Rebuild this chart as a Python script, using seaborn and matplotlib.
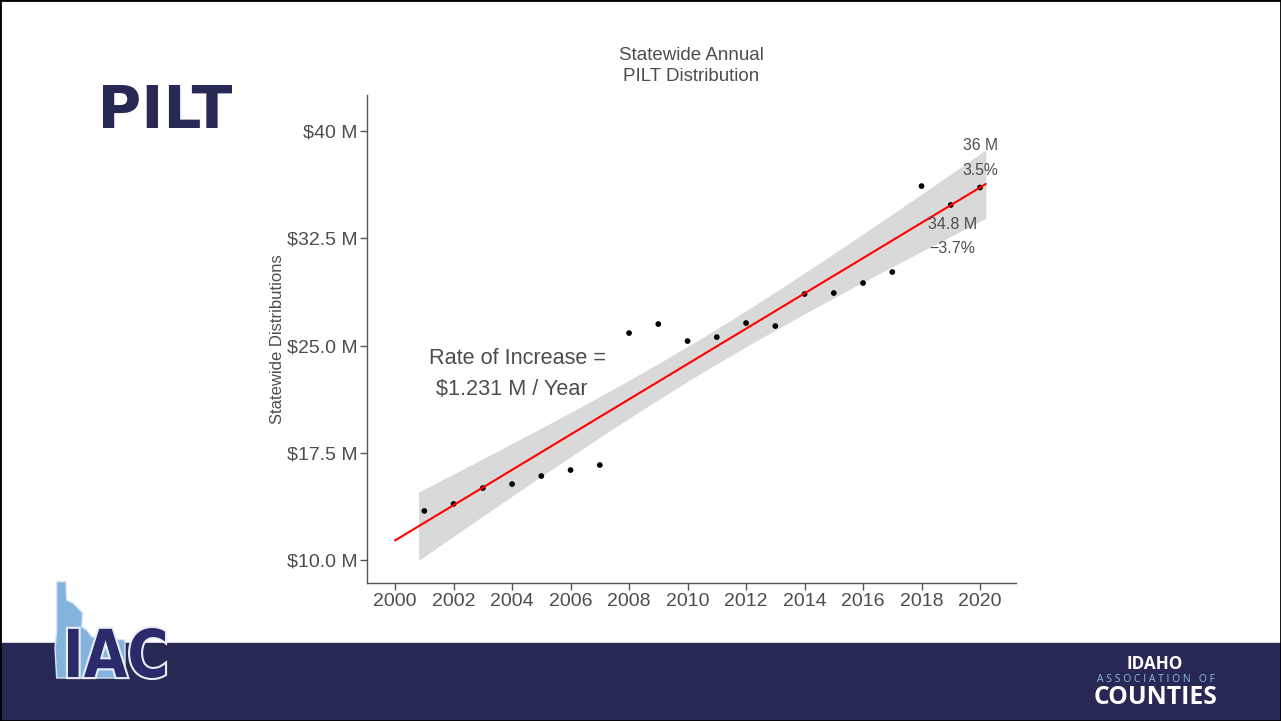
import numpy as np
import pandas as pd
import seaborn as sns
import matplotlib.pyplot as plt
from matplotlib.patches import Rectangle, Polygon, PathPatch
from matplotlib.textpath import TextPath
from matplotlib.font_manager import FontProperties
from matplotlib.transforms import Affine2D

# data (millions of dollars)
years = list(range(2001, 2021))
pilt = [13.43, 13.92, 15.03, 15.31, 15.87, 16.29, 16.64, 25.87, 26.50, 25.31,
        25.59, 26.57, 26.36, 28.60, 28.67, 29.37, 30.14, 36.15, 34.83, 36.05]
y_ticks = [10.0, 17.5, 25.0, 32.5, 40.0]
y_labels = ["$10.0 M", "$17.5 M", "$25.0 M", "$32.5 M", "$40 M"]
x_ticks = list(range(2000, 2021, 2))

df = pd.DataFrame({"year": years, "pilt": pilt})

W, H = 1281, 721
NAVY = "#272853"
GREY_TXT = "#4d4d4d"

sns.set_style("white")
plt.rcParams["font.family"] = ["Liberation Sans", "DejaVu Sans"]

fig = plt.figure(figsize=(W / 100, H / 100), dpi=100)


def fx(px):
    return px / W


def fy(py):
    return 1 - py / H


def stretched_text(s, x0, base, height, width, family, color, stroke=None, z=3):
    # text as a path squeezed into a pixel box (x0 = left, base = baseline from top)
    tp = TextPath((0, 0), s, size=100, prop=FontProperties(family=family, weight="bold"))
    ext = tp.get_extents()
    tr = (Affine2D().translate(-ext.x0, -ext.y0)
          .scale(width / ext.width, height / ext.height)
          .translate(x0, H - base))
    if stroke:
        fig.patches.append(PathPatch(tp, transform=tr, facecolor=stroke,
                                     edgecolor=stroke, lw=3, zorder=z))
    fig.patches.append(PathPatch(tp, transform=tr, facecolor=color, lw=0, zorder=z + 0.1))


ax = fig.add_axes([fx(367), fy(583), fx(1016) - fx(367), fy(95) - fy(583)])

# points first so the band greys the ones inside it (as in the original)
sns.scatterplot(data=df, x="year", y="pilt", color="black", s=17,
                edgecolor="none", ax=ax, zorder=1)

# linear fit + confidence band
b, a = np.polyfit(df.year, df.pilt, 1)
n = len(df)
resid = df.pilt - (a + b * df.year)
s = np.sqrt((resid ** 2).sum() / (n - 2))
xm = df.year.mean()
sxx = ((df.year - xm) ** 2).sum()
xb = np.linspace(df.year.min() - 0.2, df.year.max() + 0.2, 100)
se = s * np.sqrt(1 / n + (xb - xm) ** 2 / sxx)
tcrit = 2.6
ax.fill_between(xb, a + b * xb - tcrit * se, a + b * xb + tcrit * se,
                color="black", alpha=0.15, lw=0, zorder=2)

xl = pd.DataFrame({"year": [2000.0, df.year.max() + 0.2]})
xl["fit"] = a + b * xl.year
sns.lineplot(data=xl, x="year", y="fit", color="red", lw=1.5, ax=ax, zorder=3)

ax.set_xlim(1999.04, 2021.23)
ax.set_ylim(8.39, 42.52)
ax.set_xticks(x_ticks)
ax.set_yticks(y_ticks)
ax.set_yticklabels(y_labels)
ax.tick_params(axis="both", length=5, width=1, color="#555555", bottom=True, left=True,
               labelsize=14, labelcolor=GREY_TXT, pad=2, direction="out")
sns.despine(ax=ax)
for sp in ["left", "bottom"]:
    ax.spines[sp].set_color("#555555")
    ax.spines[sp].set_linewidth(1)
ax.set_xlabel("")
ax.set_ylabel("Statewide Distributions", fontsize=12, color=GREY_TXT, labelpad=1)
ax.set_title("Statewide Annual\nPILT Distribution", fontsize=13.5,
             color=GREY_TXT, pad=10, linespacing=1.3)

ax.text(2004.2, 24.1, "Rate of Increase =", ha="center", va="center",
        fontsize=15.6, color=GREY_TXT)
ax.text(2004.0, 21.9, "$1.231 M / Year", ha="center", va="center",
        fontsize=15.6, color=GREY_TXT)
ax.text(2020, 39.0, "36 M", ha="center", va="center", fontsize=11.3, color=GREY_TXT)
ax.text(2020, 37.25, "3.5%", ha="center", va="center", fontsize=11.3, color=GREY_TXT)
ax.text(2019.05, 33.45, "34.8 M", ha="center", va="center", fontsize=11.5, color=GREY_TXT)
ax.text(2019.05, 31.75, "\u22123.7%", ha="center", va="center", fontsize=11.5, color=GREY_TXT)

# slide decoration
stretched_text("PILT", 103, 128, 43, 129, "DejaVu Sans", NAVY)

fig.patches.append(Rectangle((0, 0), 1, fy(643), transform=fig.transFigure,
                             color=NAVY, zorder=0))

idaho = [(56.7, 581.7), (66, 581.7), (66.7, 600), (73, 603), (82.7, 613),
         (81.7, 626.7), (86.7, 630), (92, 637), (125, 640), (125, 678),
         (56.7, 678), (55, 648), (56.7, 630)]
fig.patches.append(Polygon([(fx(x), fy(y)) for x, y in idaho], closed=True,
                           transform=fig.transFigure, facecolor="#84b4de",
                           edgecolor="#d8e6f2", lw=1, zorder=1))
stretched_text("IAC", 68, 678, 50, 97, "DejaVu Sans", "#2b2a6b", stroke="#e8eef6", z=2)

fig.text(fx(1155), fy(664), "IDAHO", fontsize=12.3, fontweight="bold",
         color="white", ha="center", va="center", family=["Open Sans", "DejaVu Sans"])
fig.text(fx(1156), fy(680), "A S S O C I A T I O N   O F", fontsize=7.5,
         color="#8dbde8", ha="center", va="center", family=["Open Sans", "DejaVu Sans"])
fig.text(fx(1156), fy(697), "COUNTIES", fontsize=17.8, fontweight="bold",
         color="white", ha="center", va="center", family=["Open Sans", "DejaVu Sans"])

fig.patches.append(Rectangle((0, 0), 1, 1, transform=fig.transFigure,
                             fill=False, edgecolor="black", lw=2, zorder=5))

fig.savefig("out.png", dpi=100)
